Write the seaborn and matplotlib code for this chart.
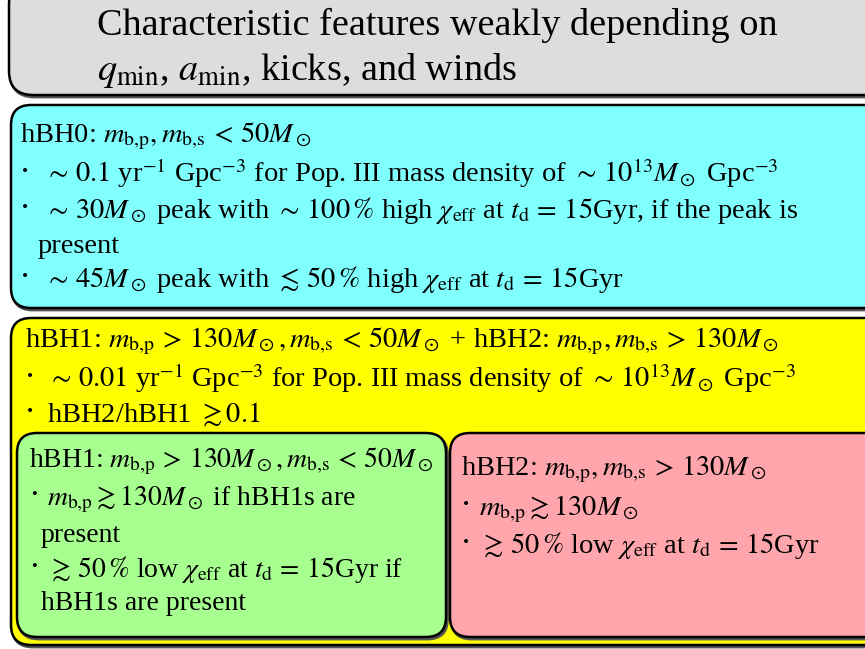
import matplotlib
matplotlib.use("Agg")
import matplotlib.pyplot as plt
from matplotlib.patches import FancyBboxPatch
import seaborn as sns

# slide text, box by box
title_lines = ["Characteristic features weakly depending on",
               r"$q_{\rm min}$, $a_{\rm min}$, kicks, and winds"]

hbh0_lines = [r"hBH0: $m_{\rm b{,}p}, m_{\rm b{,}s}\,<\,50M_\odot$",
              r"• $\sim\,0.1$ yr$^{-1}$ Gpc$^{-3}$ for Pop. III mass density of $\sim\,10^{13}M_\odot$ Gpc$^{-3}$",
              r"• $\sim\,30M_\odot$ peak with $\sim\,100\,\%$ high $\chi_{\rm eff}$ at $t_{\rm d}\,=\,15$Gyr, if the peak is",
              "  present",
              r"• $\sim\,45M_\odot$ peak with $\lesssim\,50\,\%$ high $\chi_{\rm eff}$ at $t_{\rm d}\,=\,15$Gyr"]

hbh12_lines = [r"hBH1: $m_{\rm b{,}p}\,>\,130M_\odot, m_{\rm b{,}s}\,<\,50M_\odot$ + hBH2: $m_{\rm b{,}p}, m_{\rm b{,}s}\,>\,130M_\odot$",
               r"• $\sim\,0.01$ yr$^{-1}$ Gpc$^{-3}$ for Pop. III mass density of $\sim\,10^{13}M_\odot$ Gpc$^{-3}$",
               r"• hBH2/hBH1 $\gtrsim 0.1$"]

hbh1_lines = [r"hBH1: $m_{\rm b{,}p}\,>\,130M_\odot, m_{\rm b{,}s}\,<\,50M_\odot$",
              r"• $m_{\rm b{,}p} \gtrsim 130M_\odot$ if hBH1s are",
              "  present",
              r"• $\gtrsim\,50\,\%$ low $\chi_{\rm eff}$ at $t_{\rm d}\,=\,15$Gyr if",
              "  hBH1s are present"]

hbh2_lines = [r"hBH2: $m_{\rm b{,}p}, m_{\rm b{,}s}\,>\,130M_\odot$",
              r"• $m_{\rm b{,}p} \gtrsim 130M_\odot$",
              r"• $\gtrsim\,50\,\%$ low $\chi_{\rm eff}$ at $t_{\rm d}\,=\,15$Gyr"]

sns.set_theme(style="white")
plt.rcParams["font.family"] = ["Liberation Serif", "DejaVu Serif"]
plt.rcParams["mathtext.fontset"] = "stix"
plt.rcParams["text.color"] = "black"

fig = plt.figure(figsize=(8.65, 6.49), dpi=100)
ax = fig.add_axes([0, 0, 1, 1])
ax.set_xlim(0, 865)
ax.set_ylim(649, 0)
ax.axis("off")


def box(x0, y0, x1, y1, color, r=20):
    # soft shadow under the box, then the box itself
    sh = FancyBboxPatch((x0 + 1.5, y0 + 2), x1 - x0, y1 - y0,
                        boxstyle="round,pad=0,rounding_size=%d" % r,
                        fc="#555555", ec="#555555", lw=2)
    ax.add_patch(sh)
    p = FancyBboxPatch((x0, y0), x1 - x0, y1 - y0,
                       boxstyle="round,pad=0,rounding_size=%d" % r,
                       fc=color, ec="black", lw=1.8)
    ax.add_patch(p)


def write(lines, x, ys, indent, size=20.5):
    for s, y in zip(lines, ys):
        if s.startswith("• "):
            ax.text(x + 2, y - 6, "•", fontsize=size * 0.6, va="baseline")
            ax.text(x + indent, y, s[2:], fontsize=size, va="baseline")
        elif s.startswith("  "):
            ax.text(x + indent - 6, y, s[2:], fontsize=size, va="baseline")
        else:
            ax.text(x, y, s, fontsize=size, va="baseline")


# boxes
box(9, -20, 890, 95, "#dddde0", r=24)
box(11, 105, 890, 308, "#80ffff")
box(11, 318, 890, 645, "#ffff00")
box(17, 433, 446, 637, "#a6ff8e")
box(450, 433, 890, 637, "#ffa6ad")

# text
for s, y in zip(title_lines, [35, 80]):
    ax.text(97, y, s, fontsize=27.5, va="baseline")
write(hbh0_lines, 20, [142, 182, 218, 253, 287], 24)
write(hbh12_lines, 25, [347, 387, 422], 22)
write(hbh1_lines, 29, [467, 505, 542, 577, 610], 18, size=20)
write(hbh2_lines, 461, [475, 515, 553], 18)

fig.savefig("out.png", dpi=100)
